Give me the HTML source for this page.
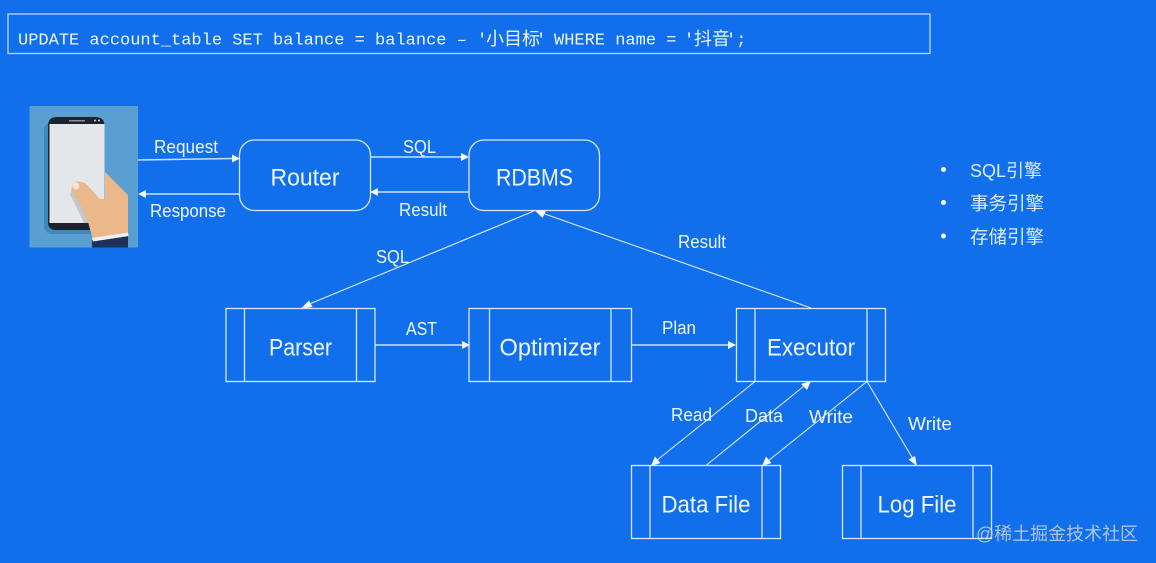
<!DOCTYPE html>
<html><head><meta charset="utf-8"><style>
html,body{margin:0;padding:0;background:#126fec;}
svg{display:block;}
text{font-family:"Liberation Sans","Noto Sans CJK SC",sans-serif;fill:#eef6ff;}
.l{font-size:18px;}
.n{font-size:24.500px;}
.b{fill:none;stroke:#d4e8ff;stroke-width:1.300;}
.c{fill:none;stroke:#c8e0ff;stroke-width:1.500;}
.t{fill:none;stroke:#dcecff;stroke-width:1.100;}
.a{fill:#f4f9ff;stroke:none;}
.m{font-family:"Liberation Mono","Noto Sans CJK SC",monospace;font-size:17px;}
.k{font-family:"Noto Sans CJK SC",sans-serif;font-size:18px;}
</style></head><body>
<svg width="1156" height="563" viewBox="0 0 1156 563" xmlns="http://www.w3.org/2000/svg">
<rect width="1156" height="563" fill="#126fec"/>
<rect x="8" y="14" width="922" height="39.500" fill="none" stroke="#b5d6ff" stroke-width="1.300"/>
<text class="m" x="18" y="44.500">UPDATE account_table SET balance = balance –</text>
<text class="m" x="477" y="44.500">'</text>
<text class="k" x="486" y="45">小目标</text>
<text class="m" x="536" y="44.500">'</text>
<text class="m" x="554" y="44.500">WHERE name =</text>
<text class="m" x="684" y="44.500">'</text>
<text class="k" x="694" y="45">抖音</text>
<text class="m" x="726" y="44.500">';</text>

<!-- phone picture -->
<rect x="29.500" y="106" width="108.500" height="141.500" fill="#5a9fd2"/>
<rect x="44" y="122" width="58" height="112" rx="8" fill="#3f88bb"/>
<path d="M48 126Q48 117 57 117H95Q104.500 117 104.500 126V222Q104.500 230 96 230H56Q48 230 48 222Z" fill="#1c2230"/>
<rect x="49.500" y="124" width="55" height="99" fill="#e4e7ea"/>
<rect x="69" y="120" width="16" height="1.500" fill="#8a8f99"/>
<circle cx="95" cy="120.500" r="1" fill="#cfd3d8"/>
<circle cx="99" cy="120.500" r="1" fill="#cfd3d8"/>
<path d="M72 188L70 194L84 223H98L84 196Z" fill="#c3c8cd"/>
<path d="M105 172L128 195L128 234L93 240L88 222L82 208L72 191Q70 183 78 181.500Q84 181 88 186L100 199H105Z" fill="#eab88b"/>
<circle cx="76" cy="186" r="3.500" fill="#f6e4d4"/>
<path d="M92 240L128 235V247.500H92Z" fill="#22305c"/>
<path d="M92 238L128 232.500L128.500 236L93 241.500Z" fill="#eef2f6"/>

<!-- rounded nodes -->
<rect class="b" x="239.500" y="140" width="131" height="70.500" rx="15"/>
<rect class="b" x="469" y="140" width="130.500" height="70.500" rx="15"/>
<text class="n" x="305" y="185.500" text-anchor="middle" textLength="69" lengthAdjust="spacingAndGlyphs">Router</text>
<text class="n" x="534.500" y="185.500" text-anchor="middle" textLength="77" lengthAdjust="spacingAndGlyphs">RDBMS</text>

<!-- process nodes -->
<rect class="b" x="226" y="308.500" width="149" height="73"/><path class="b" d="M244.500 308.500V381.500M356.500 308.500V381.500"/>
<rect class="b" x="469" y="308.500" width="162.500" height="73"/><path class="b" d="M489.500 308.500V381.500M611 308.500V381.500"/>
<rect class="b" x="736.500" y="308.500" width="149" height="73"/><path class="b" d="M755 308.500V381.500M867 308.500V381.500"/>
<rect class="b" x="631.500" y="465.500" width="149" height="73"/><path class="b" d="M650 465.500V538.500M762 465.500V538.500"/>
<rect class="b" x="842.500" y="465.500" width="149" height="73"/><path class="b" d="M861 465.500V538.500M973 465.500V538.500"/>
<text class="n" x="300.500" y="355.500" text-anchor="middle" textLength="63" lengthAdjust="spacingAndGlyphs">Parser</text>
<text class="n" x="550" y="355.500" text-anchor="middle" textLength="101" lengthAdjust="spacingAndGlyphs">Optimizer</text>
<text class="n" x="811" y="355.500" text-anchor="middle" textLength="88" lengthAdjust="spacingAndGlyphs">Executor</text>
<text class="n" x="706" y="512.500" text-anchor="middle" textLength="89" lengthAdjust="spacingAndGlyphs">Data File</text>
<text class="n" x="917" y="512.500" text-anchor="middle" textLength="79" lengthAdjust="spacingAndGlyphs">Log File</text>

<!-- connectors -->
<path class="c" d="M138 160L232 158.500"/><path class="a" d="M240 158.500L232 154.500V162.500z"/>
<path class="c" d="M239 194H145"/><path class="a" d="M138 194L146 190V198z"/>
<path class="c" d="M370 157H462"/><path class="a" d="M469 157L461 153V161z"/>
<path class="c" d="M469 192H378"/><path class="a" d="M370 192L378 188V196z"/>
<path class="t" d="M534 211L307 305"/><path class="a" d="M301 308.500L309 300.500L312.500 307z"/>
<path class="t" d="M811 308L542 213"/><path class="a" d="M535 210.500L546 210.500L542.500 218z"/>
<path class="c" d="M375 345H462"/><path class="a" d="M470 345L462 341V349z"/>
<path class="c" d="M631.500 345H728"/><path class="a" d="M736 345L728 341V349z"/>
<path class="t" d="M755 381.500L656 461"/><path class="a" d="M651 466L655 456.500L660.500 463z"/>
<path class="t" d="M706 465.500L804 386"/><path class="a" d="M811 381L807 390L801 384z"/>
<path class="t" d="M867 381.500L768 461"/><path class="a" d="M762 466L766 456.500L771.500 463z"/>
<path class="t" d="M867 381.500L913 459"/><path class="a" d="M917 466L908.500 459.500L915 456z"/>

<!-- connector labels -->
<text class="l" x="154" y="153" textLength="64" lengthAdjust="spacingAndGlyphs">Request</text>
<text class="l" x="150" y="217" textLength="76" lengthAdjust="spacingAndGlyphs">Response</text>
<text class="l" x="403" y="153" textLength="33" lengthAdjust="spacingAndGlyphs">SQL</text>
<text class="l" x="399" y="216" textLength="48" lengthAdjust="spacingAndGlyphs">Result</text>
<text class="l" x="376" y="263" textLength="33" lengthAdjust="spacingAndGlyphs">SQL</text>
<text class="l" x="678" y="248" textLength="48" lengthAdjust="spacingAndGlyphs">Result</text>
<text class="l" x="406" y="335" textLength="31" lengthAdjust="spacingAndGlyphs">AST</text>
<text class="l" x="662" y="334" textLength="34" lengthAdjust="spacingAndGlyphs">Plan</text>
<text class="l" x="671" y="421" textLength="41" lengthAdjust="spacingAndGlyphs">Read</text>
<text class="l" x="745" y="422" textLength="38" lengthAdjust="spacingAndGlyphs">Data</text>
<text class="l" x="809" y="423" textLength="44" lengthAdjust="spacingAndGlyphs">Write</text>
<text class="l" x="908" y="430" textLength="44" lengthAdjust="spacingAndGlyphs">Write</text>

<!-- bullets -->
<circle cx="943.500" cy="169.500" r="2.500" fill="#fff"/>
<circle cx="943.500" cy="202.500" r="2.500" fill="#fff"/>
<circle cx="943.500" cy="236" r="2.500" fill="#fff"/>
<text x="970" y="177" font-size="18" fill-opacity=".92" textLength="72" lengthAdjust="spacingAndGlyphs">SQL引擎</text>
<text x="970" y="210" font-size="18.500" fill-opacity=".92">事务引擎</text>
<text x="970" y="243.500" font-size="18.500" fill-opacity=".92">存储引擎</text>

<!-- watermark -->
<text x="976" y="540" font-size="18" style="fill:#c9d3df;fill-opacity:.85" textLength="162" lengthAdjust="spacingAndGlyphs">@稀土掘金技术社区</text>
</svg>
</body></html>
